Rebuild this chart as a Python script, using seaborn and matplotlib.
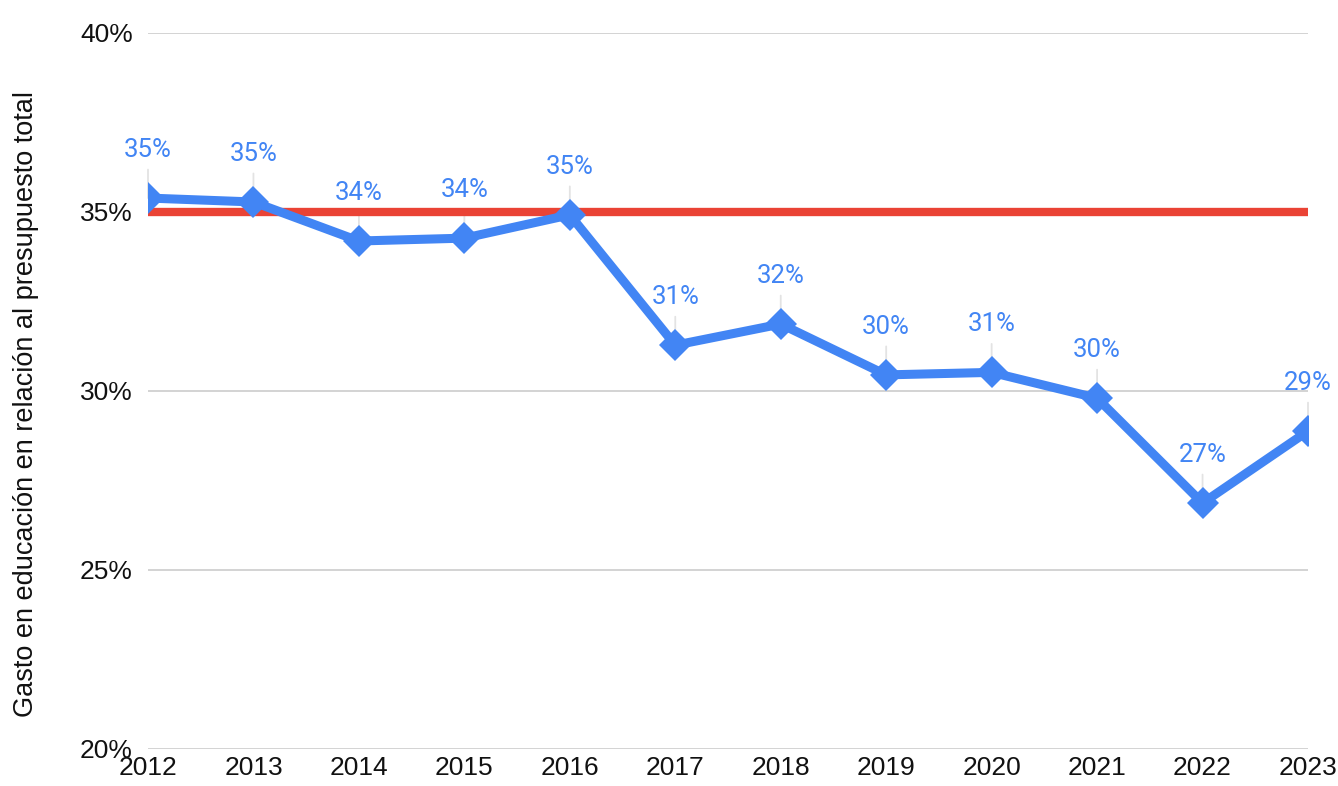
import matplotlib
matplotlib.use("Agg")
import matplotlib.pyplot as plt
import seaborn as sns
import pandas as pd

years = [2012, 2013, 2014, 2015, 2016, 2017, 2018, 2019, 2020, 2021, 2022, 2023]
share = [35.39, 35.28, 34.19, 34.27, 34.92, 31.28, 31.87, 30.45, 30.52, 29.80, 26.87, 28.88]
target = 35.0
y_ticks = [20, 25, 30, 35, 40]

df = pd.DataFrame({"year": years, "share": share})

sns.set_theme(style="white")
plt.rcParams["font.family"] = ["Liberation Sans", "DejaVu Sans"]

fig = plt.figure(figsize=(13.38, 7.86), dpi=100)
ax = fig.add_axes([148 / 1338, 1 - 749 / 786, 1160 / 1338, (749 - 33) / 786])

blue = "#4285F4"
red = "#EA4335"

ax.axhline(target, color=red, lw=6, zorder=3, solid_capstyle="butt")
sns.lineplot(data=df, x="year", y="share", ax=ax, color=blue, lw=6.5,
             marker="D", markersize=16, markeredgewidth=0, zorder=4)

for x, v in zip(years, share):
    ax.annotate(f"{v:.0f}%", xy=(x, v), xytext=(0, 34.5), textcoords="offset points",
                ha="center", va="center", fontsize=18.5, color=blue, zorder=2,
                family=["Roboto", "DejaVu Sans"],
                arrowprops=dict(arrowstyle="-", color="#e3e3e3", lw=1.3,
                                shrinkA=3, shrinkB=0))

ax.set_xlim(2012, 2023)
ax.set_ylim(20, 40)
ax.set_xticks(years)
ax.set_xticklabels([str(y) for y in years])
ax.set_yticks(y_ticks)
ax.set_yticklabels([f"{t}%" for t in y_ticks])
ax.tick_params(axis="both", labelsize=19, colors="#111111", length=0)
ax.tick_params(axis="x", pad=5)
ax.tick_params(axis="y", pad=11)
ax.grid(axis="y", color="#cccccc", lw=1.2)
ax.grid(axis="x", visible=False)
for s in ax.spines.values():
    s.set_visible(False)
ax.set_xlabel("")
ax.set_ylabel("Gasto en educación en relación al presupuesto total", fontsize=19.5,
              color="#111111")
ax.yaxis.set_label_coords(-0.094, 0.482)

fig.savefig("out.png", dpi=100)
